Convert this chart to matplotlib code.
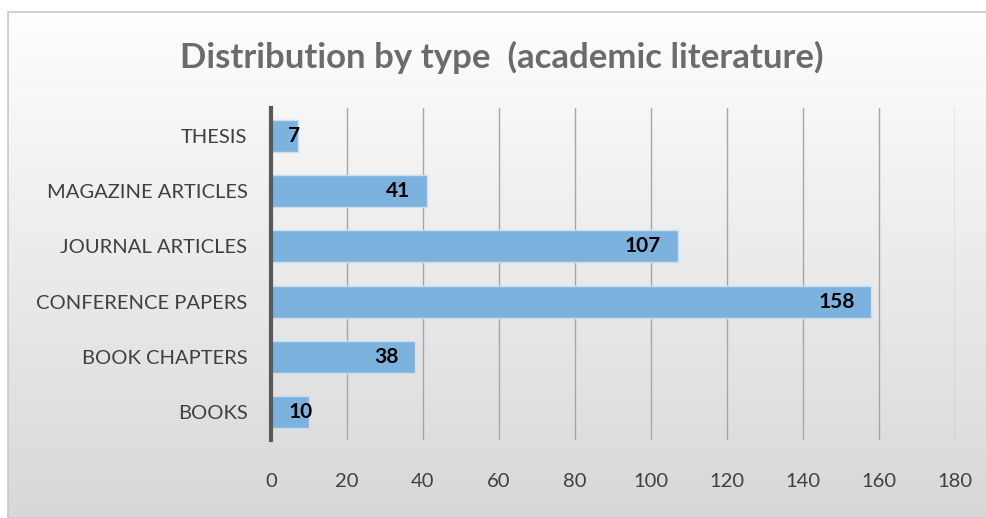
import numpy as np
import matplotlib.pyplot as plt
from matplotlib.patches import Rectangle
from matplotlib.colors import LinearSegmentedColormap

categories = ["BOOKS", "BOOK CHAPTERS", "CONFERENCE PAPERS",
              "JOURNAL ARTICLES", "MAGAZINE ARTICLES", "THESIS"]
counts = [10, 38, 158, 107, 41, 7]
x_ticks = [0, 20, 40, 60, 80, 100, 120, 140, 160, 180]

plt.rcParams['font.family'] = ['Lato', 'DejaVu Sans']

fig = plt.figure(figsize=(9.87, 5.18), dpi=100)

# background gradient panel
bg = fig.add_axes([0, 0, 1, 1], zorder=-10)
grad = np.linspace(0, 1, 256).reshape(-1, 1)
bg.imshow(grad, aspect='auto', cmap=LinearSegmentedColormap.from_list('g', ['#fefefe', '#d8d8d8']),
          extent=[8 / 987, 1, 0, 1 - 12 / 518], origin='upper')
bg.add_patch(Rectangle((8 / 987, 0), 1, 1 - 12 / 518, fill=False, edgecolor='#c8c8c8', lw=1.2))
bg.set_xlim(0, 1)
bg.set_ylim(0, 1)
bg.axis('off')

ax = fig.add_axes([271 / 987, 1 - 440 / 518, (955 - 271) / 987, (440 - 108) / 518])
ax.patch.set_alpha(0)

y = np.arange(len(categories))
ax.barh(y, counts, height=0.58, color='#7cb2de', edgecolor='#c9def0', linewidth=1, zorder=3)

for yi, v in zip(y, counts):
    if v >= 20:
        ax.annotate(str(v), (v, yi), xytext=(-12, 0), textcoords='offset points',
                    ha='right', va='center', fontsize=15, fontweight='bold', color='black', zorder=4)
    else:
        ax.annotate(str(v), (0, yi), xytext=(12.5, 0), textcoords='offset points',
                    ha='left', va='center', fontsize=15, fontweight='bold', color='black', zorder=4)

ax.set_xlim(0, 180)
ax.set_ylim(-0.5, 5.5)
ax.set_xticks(x_ticks)
ax.set_yticks(y)
ax.set_yticklabels(categories)
ax.tick_params(axis='both', length=0, labelsize=14.5, colors='#404040')
ax.tick_params(axis='x', pad=24)
ax.tick_params(axis='y', pad=17)
ax.grid(axis='x', color='#a6a6a6', linewidth=1, zorder=0)
for s in ['top', 'right', 'bottom']:
    ax.spines[s].set_visible(False)
ax.spines['left'].set_color('#595959')
ax.spines['left'].set_linewidth(3)
ax.spines['left'].set_zorder(5)

fig.text(0.508, 1 - 57 / 518, "Distribution by type  (academic literature)",
         ha='center', va='center', fontsize=25, fontweight='bold', color='#6b6b6b')

fig.savefig('out.png', dpi=100)
